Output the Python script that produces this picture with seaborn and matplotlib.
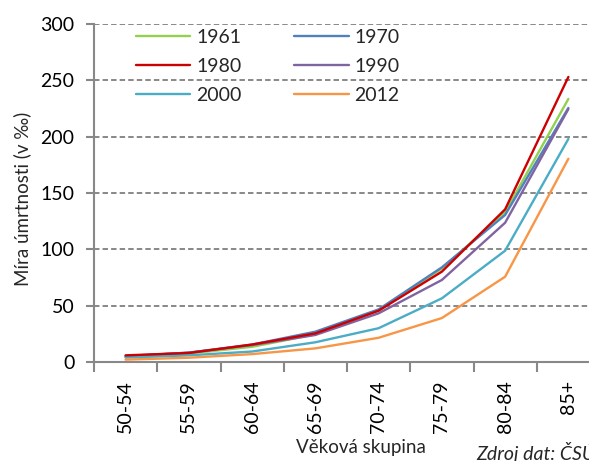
import matplotlib
matplotlib.use("Agg")
import matplotlib.pyplot as plt
import seaborn as sns
import pandas as pd
from matplotlib.lines import Line2D

# Age groups and mortality rates (per mille) by census year
age_groups = ["50-54", "55-59", "60-64", "65-69", "70-74", "75-79", "80-84", "85+"]
rate_1961 = [4.5, 7.5, 13.5, 24.5, 46.0, 83.0, 133.0, 233.5]
rate_1970 = [5.3, 8.3, 15.5, 26.9, 46.7, 84.0, 130.5, 225.5]
rate_1980 = [5.9, 8.0, 15.5, 25.4, 45.5, 80.2, 135.5, 253.0]
rate_1990 = [5.0, 8.3, 15.0, 24.0, 43.2, 72.8, 123.6, 224.5]
rate_2000 = [3.9, 5.9, 9.3, 17.5, 30.0, 56.5, 98.8, 198.0]
rate_2012 = [2.1, 3.8, 7.0, 12.1, 21.5, 39.0, 75.7, 180.4]
years = ["1961", "1970", "1980", "1990", "2000", "2012"]
y_ticks = [0, 50, 100, 150, 200, 250, 300]

series = {
    "1961": rate_1961, "1970": rate_1970, "1980": rate_1980,
    "1990": rate_1990, "2000": rate_2000, "2012": rate_2012,
}
colors = {
    "1961": "#92D050", "1970": "#4F81BD", "1980": "#CC0000",
    "1990": "#8064A2", "2000": "#4BACC6", "2012": "#F79646",
}
# draw order: red series on top
draw_order = ["1961", "1970", "1990", "2000", "2012", "1980"]

sns.set_theme(style="white")
plt.rcParams["font.family"] = ["Lato", "DejaVu Sans"]
FS = 14

rows = []
for yr in years:
    for ag, v in zip(age_groups, series[yr]):
        rows.append({"age": ag, "year": yr, "rate": v})
df = pd.DataFrame(rows)

fig = plt.figure(figsize=(5.89, 4.61), dpi=100)
W, H = 589, 461
ax = fig.add_axes([94 / W, (H - 362) / H, (600 - 94) / W, (362 - 24) / H])

for i, yr in enumerate(draw_order):
    sub = df[df["year"] == yr]
    sns.lineplot(data=sub, x="age", y="rate", ax=ax, color=colors[yr],
                 linewidth=1.7, zorder=3 + i, legend=False, sort=False)

ax.set_xlim(-0.5, len(age_groups) - 0.5)
ax.set_ylim(0, 300)
ax.set_yticks(y_ticks)
ax.set_yticklabels([str(t) for t in y_ticks], fontsize=FS, color="#000000")

ax.set_xticks(range(len(age_groups)))
ax.set_xticklabels(age_groups, rotation=90, fontsize=FS, color="#000000")
ax.set_xticks([i - 0.5 for i in range(len(age_groups) + 1)], minor=True)
ax.tick_params(axis="x", which="major", length=0, pad=13)
ax.tick_params(axis="x", which="minor", length=7, width=1.5, color="#888888",
               direction="out", bottom=True)
ax.tick_params(axis="y", which="major", length=6, width=1.5, color="#888888",
               direction="out", pad=8, left=True)

for yv in y_ticks[1:]:
    ax.axhline(yv, color="#888888", linewidth=1.4, linestyle=(0, (2.8, 1.6)),
               zorder=1)

for side in ["top", "right"]:
    ax.spines[side].set_visible(False)
for side in ["left", "bottom"]:
    ax.spines[side].set_color("#888888")
    ax.spines[side].set_linewidth(1.5)

ax.set_xlabel("Věková skupina", fontsize=13.5, va="center")
ax.set_ylabel("Míra úmrtnosti (v ‰)", fontsize=13.5, va="center")
ax.xaxis.set_label_coords((361 - 94) / 506, (362 - 447) / 338)
ax.yaxis.set_label_coords((22 - 94) / 506, (362 - 199) / 338)

legend_order = ["1961", "1980", "2000", "1970", "1990", "2012"]
handles = [Line2D([0], [0], color=colors[y], linewidth=1.7) for y in legend_order]
fig.legend(handles, legend_order, loc="upper left",
           bbox_to_anchor=(136 / W, 1 - 29 / H), bbox_transform=fig.transFigure,
           ncol=2, frameon=False, fontsize=FS, handlelength=2.8,
           handletextpad=0.3, columnspacing=2.7, labelspacing=0.62,
           borderpad=0, borderaxespad=0)

fig.text(476 / W, 1 / H, "Zdroj dat: ČSÚ", fontsize=FS, style="italic",
         ha="left", va="baseline")

fig.savefig("out.png", dpi=100)
